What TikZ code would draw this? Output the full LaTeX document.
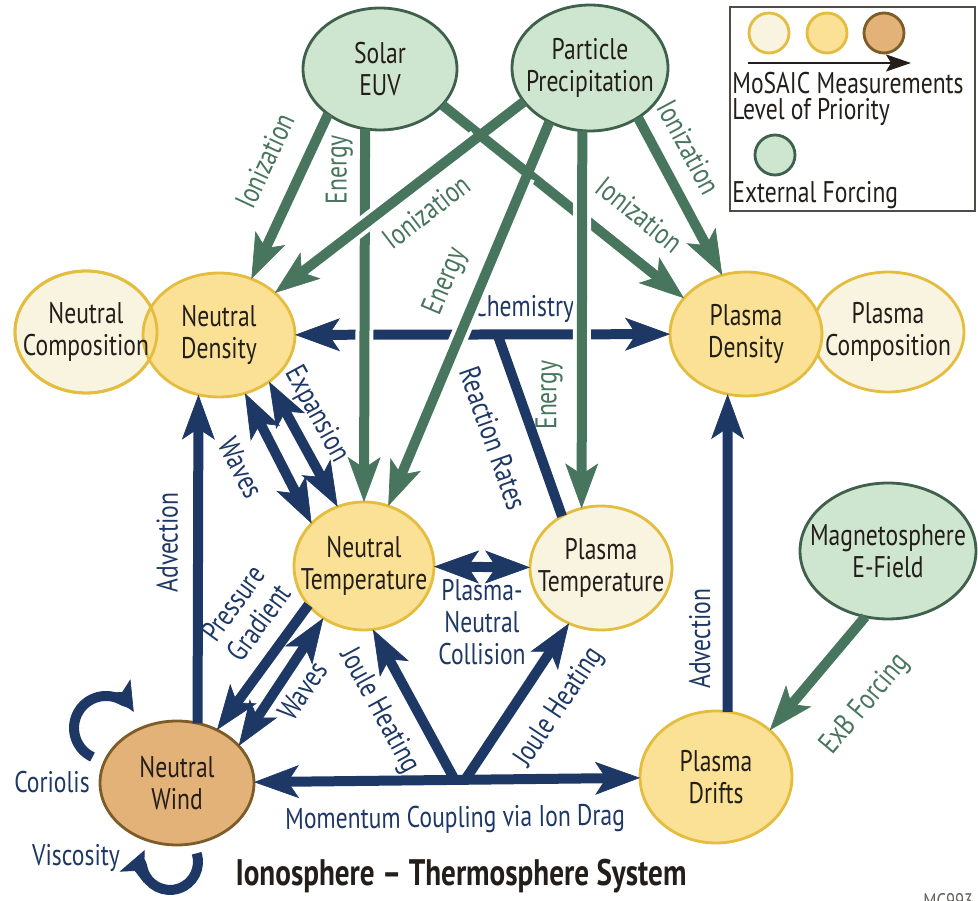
\documentclass[tikz,border=0pt]{standalone}
\usepackage{fontspec}
\setmainfont[FakeStretch=0.79]{PT Sans}
\usetikzlibrary{shapes.geometric,arrows.meta}
\definecolor{navy}{RGB}{30,56,102}
\definecolor{forest}{RGB}{72,117,93}
\definecolor{gold}{RGB}{228,188,62}
\definecolor{butter}{RGB}{250,225,150}
\definecolor{cream}{RGB}{248,244,224}
\definecolor{tan}{RGB}{226,178,120}
\definecolor{umber}{RGB}{125,92,40}
\definecolor{mint}{RGB}{206,230,208}
\definecolor{pine}{RGB}{62,96,76}
\definecolor{ink}{RGB}{35,30,25}
\newcommand{\flowwidth}{2mm}
\tikzset{
    bubble/.style={ellipse, line width=1.6pt, align=center, text=ink, inner xsep=-2cm, inner ysep=-1cm, outer sep=0pt},
    dims/.style 2 args={minimum width=#1, minimum height=#2},
    core/.style={bubble, draw=gold, fill=butter},
    minor/.style={bubble, draw=gold, fill=cream},
    major/.style={bubble, draw=umber, fill=tan},
    forcing/.style={bubble, draw=pine, fill=mint},
    dot/.style={circle, line width=1.6pt, minimum size=8mm, inner sep=0pt},
    flow/.style={draw=navy, line width=\flowwidth, >={Stealth[length=9mm, width=6.6mm, inset=2.2mm, line width=0.4pt]}, ->},
    drive/.style={flow, draw=forest, preaction={draw=white, line width=3.6mm, -, shorten <=12mm, shorten >=12mm}},
    swirl/.style={draw=navy, line width=\flowwidth, -{Stealth[length=6mm, width=5.4mm, inset=1.4mm, line width=0.4pt]}},
    plain/.style={text=navy, inner sep=4pt},
    tag/.style={plain, sloped},
    gtag/.style={sloped, text=forest, inner sep=4pt}
}
\begin{document}
\begin{tikzpicture}[x=0.02cm, y=-0.02cm, font=\fontsize{17}{18.2}\selectfont]
    \useasboundingbox (0,0) rectangle (978,901);
    \fill[white] (0,0) rectangle (978,901);

    \node[forcing, dims={3.08cm}{2.44cm}] (euv) at (380,69) {Solar\\EUV};
    \node[forcing, dims={3.12cm}{2.52cm}] (precip) at (590,68) {Particle\\Precipitation};
    \node[minor, dims={2.84cm}{2.44cm}] (ncomp) at (86,332) {};
    \node[core, dims={3.04cm}{2.48cm}] (ndens) at (219,335) {Neutral\\Density};
    \node[minor, fill=none, dims={2.84cm}{2.44cm}] (ncomprim) at (ncomp) {Neutral\\Composition};
    \node[minor, dims={3.04cm}{2.4cm}] (pcomp) at (888,332) {Plasma\\Composition};
    \node[core, dims={3.04cm}{2.48cm}] (pdens) at (746,334) {Plasma\\Density};
    \node[core, dims={2.8cm}{2.56cm}] (ntemp) at (364,566) {Neutral\\Temperature};
    \node[minor, dims={2.84cm}{2.48cm}] (ptemp) at (601,568) {Plasma\\Temperature};
    \node[major, dims={3.08cm}{2.48cm}] (nwind) at (177,783) {Neutral\\Wind};
    \node[core, dims={3.04cm}{2.64cm}] (pdrift) at (716,777) {Plasma\\Drifts};
    \node[forcing, dims={3.52cm}{2.72cm}] (mag) at (888,551) {Magnetosphere\\E-Field};

    \draw[flow, <->] (ndens) -- (pdens) coordinate[pos=0.54] (rr) node[tag, above, pos=0.61] {Chemistry};
    \draw[flow, -] (rr) -- (ptemp.127) node[tag, below=3.2mm, pos=0.5] {Reaction Rates};
    \draw[flow, <->] (ndens.294) -- (ntemp.141) node[tag, below=3mm, pos=0.44] {Waves};
    \draw[flow, <->] (ndens.317) -- (ntemp.114) node[tag, above, pos=0.36] {Expansion};
    \draw[flow] (nwind.71) -- (ndens.251) node[tag, above=1.6mm, pos=0.55] {Advection};
    \draw[flow] (ntemp.215) -- (nwind.53) node[tag, above=1.4mm, pos=0.28, align=center] {Pressure\\Gradient};
    \draw[flow, <->] (nwind.31) -- (ntemp.232) node[tag, below, pos=0.53] {Waves};
    \draw[flow, <->] (nwind) -- (pdrift) coordinate[pos=0.52] (jl) coordinate[pos=0.547] (jr) node[tag, below=2.8mm, pos=0.52] {Momentum Coupling via Ion Drag};
    \draw[flow] (jl) -- (ntemp.278) node[tag, below=1.6mm, pos=0.565] {Joule Heating};
    \draw[flow] (jr) -- (ptemp.240) node[tag, below=2.6mm, pos=0.6] {Joule Heating};
    \draw[flow, <->] (ntemp) -- (ptemp) node[plain, below, pos=0.5, align=center] {Plasma-\\Neutral\\Collision};
    \draw[flow] (pdrift.80) -- (pdens.253) node[tag, above=1mm, pos=0.23] {Advection};
    \draw[swirl] ([shift={(-84.5,-26)}]nwind.center) arc[start angle=115, end angle=330, radius=32];
    \draw[swirl] ([shift={(19.6,70.3)}]nwind.center) arc[start angle=-18, end angle=205, radius=28];
    \node[plain] (coriolis) at (52,782) {Coriolis};
    \node[plain] (viscosity) at (76,858) {Viscosity};

    \draw[drive] (euv.330) -- (pdens.150) node[gtag, above=3mm, pos=0.72] {Ionization};
    \draw[drive] (euv.221) -- (ndens.60) node[gtag, above=3mm, pos=0.38] {Ionization};
    \draw[drive, <-] (ntemp.north) -- (euv.256) node[gtag, above, pos=0.89] {Energy};
    \draw[drive] (precip.207) -- (ndens.37) node[gtag, below=1mm, pos=0.46] {Ionization};
    \draw[drive] (precip.233) -- (ntemp.68) node[gtag, above=1.6mm, pos=0.45] {Energy};
    \draw[drive, <-] (ptemp.108) -- (precip.263) node[gtag, above=1.4mm, pos=0.3] {Energy};
    \draw[drive] (precip.314) -- (pdens.112) node[gtag, above=1.6mm, pos=0.28] {Ionization};
    \draw[drive] (mag.251) -- (pdrift.41) node[gtag, below=6.2mm, pos=0.45] {ExB Forcing};

    \node[text=ink, font=\bfseries\fontsize{21}{24}\selectfont] (title) at (461,876) {Ionosphere – Thermosphere System};

    \draw[line width=1.2pt, draw=ink!80] (730,7) rectangle (975,211);
    \node[dot, draw=gold, fill=cream] (lvlone) at (769,33) {};
    \node[dot, draw=gold, fill=butter] (lvltwo) at (827,33) {};
    \node[dot, draw=umber, fill=tan] (lvlthree) at (884,33) {};
    \coordinate (scalefrom) at (748,63);
    \coordinate (scaleto) at (911,63);
    \draw[ink, line width=0.9pt, -{Stealth[length=5mm, width=3.4mm, inset=1mm]}] (scalefrom) -- (scaleto);
    \node[anchor=west, text=ink, inner sep=0pt] (msr) at (732,83) {MoSAIC Measurements};
    \node[anchor=west, text=ink, inner sep=0pt] (prio) at (732,112) {Level of Priority};
    \node[dot, draw=pine, fill=mint] (extdot) at (775,155) {};
    \node[anchor=west, text=ink, inner sep=0pt] (extf) at (732,195) {External Forcing};
    \node[anchor=north west, text=ink!70, inner sep=0pt, font=\fontsize{12}{12}\selectfont] (code) at (923,893) {MC993};
\end{tikzpicture}
\end{document}
